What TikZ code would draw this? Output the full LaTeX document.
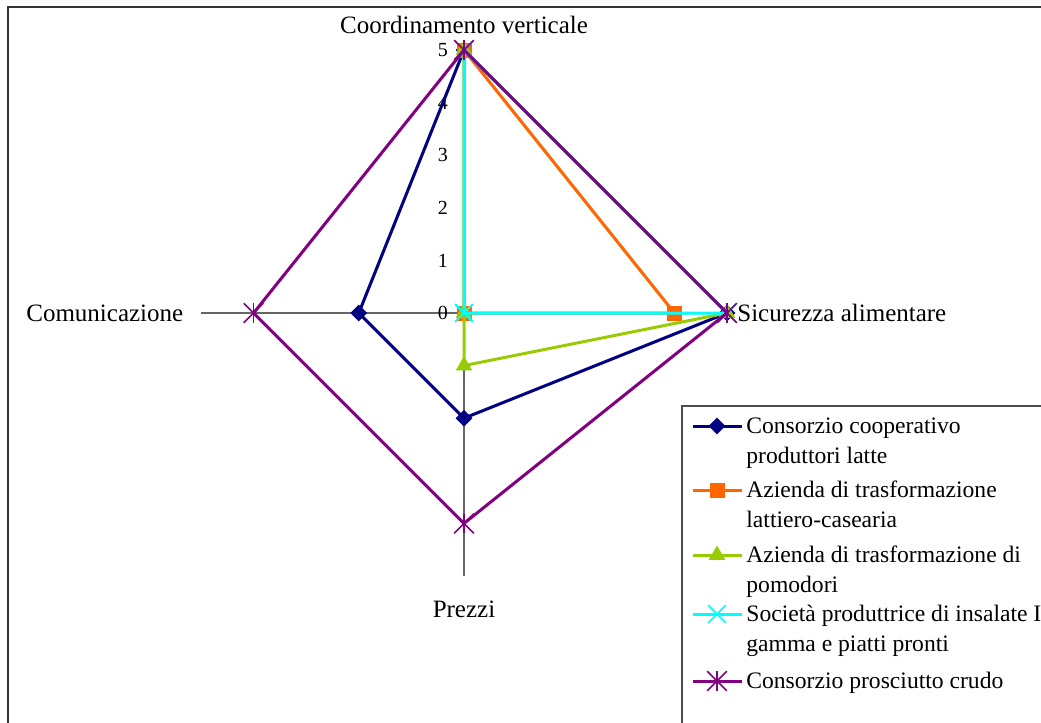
\documentclass[tikz,border=0pt]{standalone}
\usepackage{fontspec}
\setmainfont{Liberation Serif}
\usetikzlibrary{shapes.geometric, shapes.misc}

\definecolor{serieNavy}{RGB}{0,0,128}
\definecolor{serieOrange}{RGB}{255,102,0}
\definecolor{serieGreen}{RGB}{153,204,0}
\definecolor{serieCyan}{RGB}{0,255,255}
\definecolor{seriePurple}{RGB}{128,0,128}

\begin{document}
\begin{tikzpicture}[
    x=0.5pt, y=-0.5pt,
    frame/.style={draw=black!80, line width=1pt},
    legendbox/.style={draw=black!70, line width=0.6pt},
    axis/.style={draw=black!60, line width=0.7pt},
    serie/.style={line width=1.5pt, line join=round},
    label/.style={font=\fontsize{12.5}{15}\selectfont, inner sep=0pt},
    keytext/.style={font=\fontsize{11.8}{15}\selectfont, inner sep=0pt, anchor=north west, align=left},
    tick/.style={font=\fontsize{10}{12}\selectfont, anchor=east, inner sep=0pt},
    mdiamond/.style={diamond, fill=serieNavy, inner sep=0pt, minimum size=8.5pt},
    msquare/.style={rectangle, fill=serieOrange, inner sep=0pt, minimum size=7.5pt},
    mtriangle/.style={regular polygon, regular polygon sides=3, fill=serieGreen, inner sep=0pt, minimum size=9.5pt},
    mcross/.style={cross out, draw=serieCyan, line width=0.8pt, inner sep=0pt, minimum size=8pt},
    mstar/.style={cross out, draw=seriePurple, line width=0.8pt, inner sep=0pt, minimum size=9pt,
      append after command={(\tikzlastnode.north) edge[seriePurple, line width=0.8pt] (\tikzlastnode.south)}}
  ]

  \useasboundingbox (0,0) rectangle (1041,723);

  % Outer frame and legend box
  \draw[frame] (8,7) rectangle (1060,740);
  \draw[legendbox] (682,406) rectangle (1060,740);

  % Radar chart
  \begin{scope}[shift={(464,313)}, x=26.3pt, y=26.3pt]
    \coordinate (center) at (0,0);
    \coordinate (ax-up) at (0,5);
    \coordinate (ax-right) at (5,0);
    \coordinate (ax-down) at (0,-5);
    \coordinate (ax-left) at (-5,0);

    \foreach \p in {up,right,down,left}
      \draw[axis] (center) -- (ax-\p);

    % Scale values
    \foreach \v in {0,1,...,5}
      \node[tick] (tick\v) at (-0.3,\v) {\v};

    % Axis titles
    \node[label, anchor=base] (lab-up) at (0,5.32) {Coordinamento verticale};
    \node[label, anchor=base west] (lab-right) at (5.19,-0.17) {Sicurezza alimentare};
    \node[label, anchor=base] (lab-down) at (0,-5.78) {Prezzi};
    \node[label, anchor=base east] (lab-left) at (-5.33,-0.17) {Comunicazione};

    % Data series
    \foreach \s/\col/\mk/\u/\r/\d/\l in {
        nv/serieNavy/mdiamond/5/5/2/2,
        or/serieOrange/msquare/5/4/0/0,
        gr/serieGreen/mtriangle/5/5/1/0,
        cy/serieCyan/mcross/5/5/0/0,
        pu/seriePurple/mstar/5/5/4/4} {
        \coordinate (\s-up) at (0,\u);
        \coordinate (\s-right) at (\r,0);
        \coordinate (\s-down) at (0,-\d);
        \coordinate (\s-left) at (-\l,0);
        \draw[serie, \col] (\s-up) -- (\s-right) -- (\s-down) -- (\s-left) -- cycle;
        \foreach \p in {up,right,down,left}
          \node[\mk] (\s-\p-mk) at (\s-\p) {};
      }
  \end{scope}

  % Legend
  \foreach \s/\col/\mk/\y/\txt in {
      nv/serieNavy/mdiamond/426/{Consorzio cooperativo\\produttori latte},
      or/serieOrange/msquare/490/{Azienda di trasformazione\\lattiero-casearia},
      gr/serieGreen/mtriangle/555/{Azienda di trasformazione di\\pomodori},
      cy/serieCyan/mcross/614/{Società produttrice di insalate IV\\gamma e piatti pronti},
      pu/seriePurple/mstar/681/{Consorzio prosciutto crudo}} {
      \coordinate (\s-ka) at (693,\y);
      \coordinate (\s-kb) at (742,\y);
      \draw[serie, \col] (\s-ka) -- (\s-kb);
      \node[\mk] (\s-key) at (717,\y) {};
      \node[keytext] (\s-text) at (746,\y-14) {\strut\txt};
    }

\end{tikzpicture}
\end{document}
